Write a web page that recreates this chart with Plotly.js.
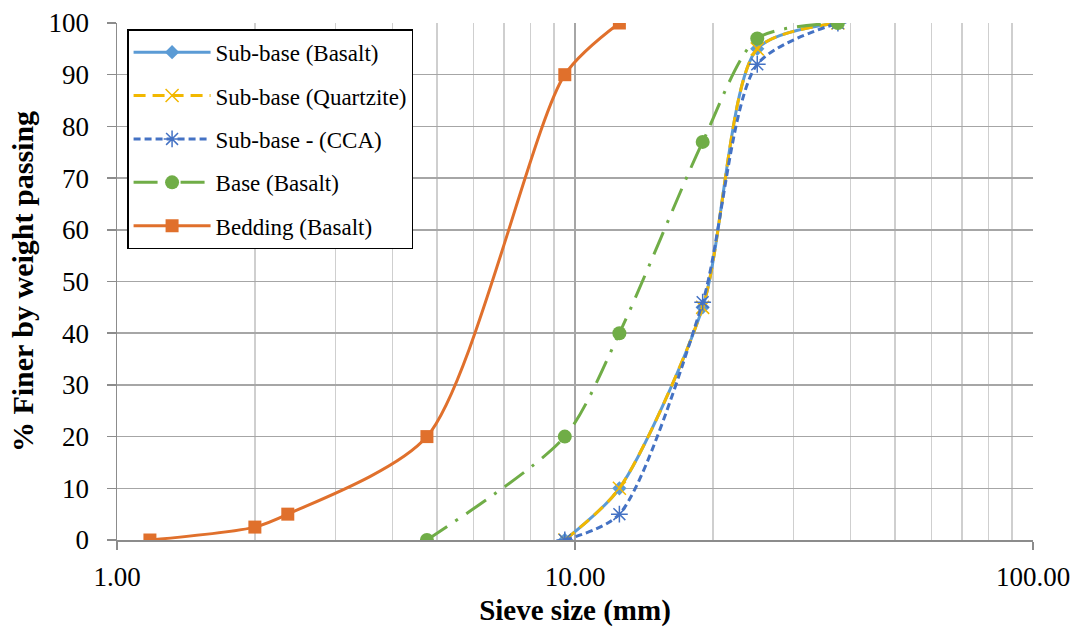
<!DOCTYPE html>
<html>
<head>
<meta charset="utf-8">
<script src="https://cdn.plot.ly/plotly-3.0.1.min.js"></script>
<style>html,body{margin:0;padding:0;background:#fff;}#chart{width:1086px;height:631px;}</style>
</head>
<body>
<div id="chart"></div>
<script>
// Data
const sieveSub = [9.5, 12.5, 19, 25, 37.5];
const subBasalt = [0, 10, 45, 95, 100];
const subQuartzite = [0, 10, 45, 95, 100];
const subCCA = [0, 5, 46, 92, 100];

const sieveBase = [4.75, 9.5, 12.5, 19, 25, 37.5];
const baseBasalt = [0, 20, 40, 77, 97, 100];

const sieveBedding = [1.18, 2, 2.36, 4.75, 9.5, 12.5];
const beddingBasalt = [0, 2.5, 5, 20, 90, 100];

const seriesNames = ["Sub-base (Basalt)", "Sub-base (Quartzite)", "Sub-base - (CCA)", "Base (Basalt)", "Bedding (Basalt)"];

const xTickVals = [1, 10, 100];
const xTickText = ["1.00", "10.00", "100.00"];
const xMinorVals = [2,3,4,5,6,7,8,9,20,30,40,50,60,70,80,90];
const yTickVals = [0,10,20,30,40,50,60,70,80,90,100];

const serif = "Liberation Serif";
const sm = 0.75;

const traces = [
  {
    x: sieveSub, y: subBasalt, name: seriesNames[0], legendgroup: "a",
    mode: "lines+markers", line: {shape: "spline", smoothing: sm, color: "#5B9BD5", width: 3},
    marker: {symbol: "diamond", size: 11, color: "#5B9BD5"}
  },
  {
    x: sieveSub, y: subQuartzite, name: seriesNames[1], legendgroup: "b",
    mode: "lines+markers", line: {shape: "spline", smoothing: sm, color: "#F2B800", width: 3, dash: "12px,7px"},
    marker: {symbol: "x-thin-open", size: 13, color: "#F2B800", line: {color: "#F2B800", width: 1.5}}
  },
  {
    x: sieveSub, y: subCCA, name: seriesNames[2], legendgroup: "c",
    mode: "lines+markers", line: {shape: "spline", smoothing: sm, color: "#4472C4", width: 3, dash: "7px,4px"},
    marker: {symbol: "asterisk-open", size: 14, color: "#4472C4", line: {color: "#4472C4", width: 1.5}}
  },
  {
    x: sieveBase, y: baseBasalt, name: seriesNames[3], legendgroup: "d",
    mode: "lines+markers", line: {shape: "spline", smoothing: sm, color: "#70AD47", width: 3, dash: "24px,10px,3px,10px"},
    marker: {symbol: "circle", size: 14, color: "#70AD47"}
  },
  {
    x: sieveBedding, y: beddingBasalt, name: seriesNames[4], legendgroup: "e",
    mode: "lines+markers", line: {shape: "spline", smoothing: sm, color: "#E0702C", width: 3},
    marker: {symbol: "square", size: 13, color: "#E0702C"}
  }
];

const layout = {
  width: 1086, height: 631,
  margin: {l: 117, r: 53, t: 23, b: 91, pad: 0},
  paper_bgcolor: "#fff", plot_bgcolor: "#fff",
  font: {family: serif, color: "#000", size: 22},
  showlegend: true,
  legend: {
    x: 0.011, y: 0.988, xanchor: "left", yanchor: "top",
    bgcolor: "#fff", bordercolor: "#000", borderwidth: 1.5,
    font: {family: serif, size: 23, color: "#000"},
    itemwidth: 77, tracegroupgap: 10.5, traceorder: "grouped"
  },
  xaxis: {
    type: "log", range: [0, 2],
    tickmode: "array", tickvals: xTickVals, ticktext: xTickText,
    ticks: "outside", ticklen: 8, tickcolor: "#8C8C8C", tickwidth: 1.5,
    showgrid: true, gridcolor: "#A6A6A6", gridwidth: 1.5,
    minor: {tickmode: "array", tickvals: xMinorVals, showgrid: true, gridcolor: "#CFCFCF", gridwidth: 1.5, ticks: ""},
    showline: true, linecolor: "#8C8C8C", linewidth: 1.5,
    zeroline: false, ticklabelstandoff: 4,
    tickfont: {family: serif, size: 27},
    title: {text: "<b>Sieve size (mm)</b>", font: {family: serif, size: 29}, standoff: 9}
  },
  yaxis: {
    range: [0, 100], tickmode: "array", tickvals: yTickVals,
    ticks: "outside", ticklen: 9, tickcolor: "#8C8C8C", tickwidth: 1.5,
    showgrid: true, gridcolor: "#A6A6A6", gridwidth: 1.5,
    showline: true, linecolor: "#8C8C8C", linewidth: 1.5,
    zeroline: false, ticklabelstandoff: 12,
    tickfont: {family: serif, size: 27},
    title: {text: "<b>% Finer by weight passing</b>", font: {family: serif, size: 30}, standoff: 6}
  }
};

Plotly.newPlot("chart", traces, layout, {displayModeBar: false, staticPlot: true});
</script>
</body>
</html>
